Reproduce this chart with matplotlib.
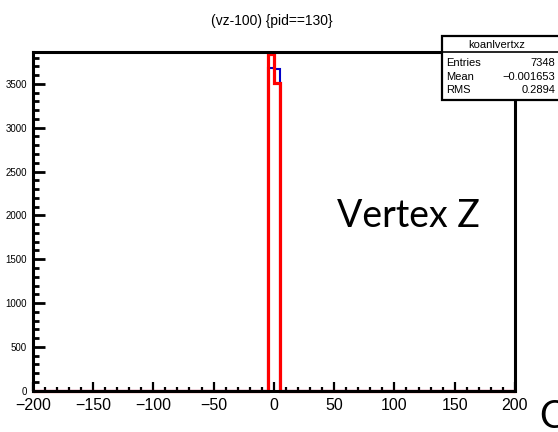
import numpy as np
import matplotlib
matplotlib.use("Agg")
import matplotlib.pyplot as plt
from matplotlib.patches import Rectangle
from matplotlib.lines import Line2D
from matplotlib.ticker import MultipleLocator

# Histogram binning: 80 bins over [-200, 200]
x_lo, x_hi, n_bins = -200, 200, 80
# Filled bins (left bin edges) and their contents
filled_bin_lo = [-5, 0]
counts_blue = [3680, 3668]   # koanlvertxz
counts_red = [3837, 3511]

title = "(vz-100) {pid==130}"
stats_name = "koanlvertxz"
stats_rows = [("Entries", "7348"), ("Mean", "\u22120.001653"), ("RMS", "0.2894")]
x_ticks = [-200, -150, -100, -50, 0, 50, 100, 150, 200]
y_ticks = [0, 500, 1000, 1500, 2000, 2500, 3000, 3500]

edges = np.linspace(x_lo, x_hi, n_bins + 1)
width = (x_hi - x_lo) / n_bins


def fill(lows, vals):
    h = np.zeros(n_bins)
    for lo, v in zip(lows, vals):
        h[int(round((lo - x_lo) / width))] = v
    return h


h_blue = fill(filled_bin_lo, counts_blue)
h_red = fill(filled_bin_lo, counts_red)

W, H = 558, 432
fig = plt.figure(figsize=(W / 100, H / 100), dpi=100)
sans = ["Liberation Sans", "DejaVu Sans"]


def fx(px):
    return px / W


def fy(py):
    return 1 - py / H


ax = fig.add_axes([fx(32.7), fy(390.7), fx(515) - fx(32.7), fy(52) - fy(390.7)])
ax.stairs(h_blue, edges, baseline=None, color="#0000c8", lw=1.5, clip_on=False, zorder=3)
ax.stairs(h_red, edges, baseline=None, color="#ff0000", lw=2.3, clip_on=False, zorder=4)
ax.set_xlim(x_lo, x_hi)
ax.set_ylim(0, 1.05 * max(h_blue.max(), 1))

for s in ax.spines.values():
    s.set_linewidth(2.2)
    s.set_zorder(5)

ax.set_xticks(x_ticks)
ax.set_yticks(y_ticks)
ax.xaxis.set_minor_locator(MultipleLocator(10))
ax.yaxis.set_minor_locator(MultipleLocator(100))
ax.tick_params(axis="x", which="major", direction="in", length=6.5, width=1.6, pad=5)
ax.tick_params(axis="x", which="minor", direction="in", length=3.0, width=1.6)
ax.tick_params(axis="y", which="major", direction="in", length=8.6, width=2.0, pad=4)
ax.tick_params(axis="y", which="minor", direction="in", length=4.3, width=2.0)
ax.set_xticklabels([f"{t}".replace("-", "\u2212") for t in x_ticks],
                   fontfamily=sans, fontsize=11.5)
ax.set_yticklabels([str(t) for t in y_ticks], fontfamily=sans, fontsize=7)

fig.text(fx(272), fy(21), title, ha="center", va="center",
         fontfamily=sans, fontsize=10)

# Statistics box
box_l, box_t, box_b, box_r = 442, 36, 100, 575
fig.patches.append(Rectangle((fx(box_l), fy(box_b)), fx(box_r) - fx(box_l),
                             fy(box_t) - fy(box_b), transform=fig.transFigure,
                             facecolor="white", edgecolor="black", lw=1.6,
                             clip_on=False, zorder=10))
fig.lines.append(Line2D([fx(box_l), fx(box_r)], [fy(52), fy(52)],
                        transform=fig.transFigure, color="black", lw=1.2, zorder=11))
fig.text(fx(497), fy(44.5), stats_name, ha="center", va="center",
         fontfamily=sans, fontsize=8, zorder=12)
for i, (k, v) in enumerate(stats_rows):
    y = 63 + 13.5 * i
    fig.text(fx(446), fy(y), k, ha="left", va="center", fontfamily=sans,
             fontsize=8, zorder=12)
    fig.text(fx(555), fy(y), v, ha="right", va="center", fontfamily=sans,
             fontsize=8, zorder=12)

fig.text(fx(408), fy(216), "Vertex Z", ha="center", va="center",
         fontfamily=["Lato", "DejaVu Sans"], fontsize=27)
fig.text(fx(539), fy(417), "C", ha="left", va="center",
         fontfamily=["Lato", "DejaVu Sans"], fontsize=27)

fig.savefig("out.png", dpi=100)
